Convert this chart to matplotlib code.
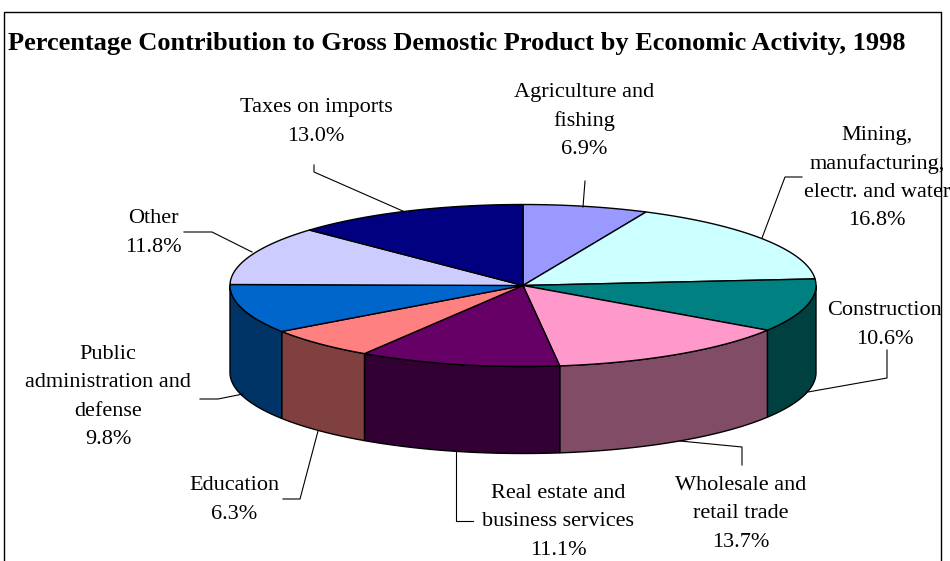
import numpy as np
from matplotlib import pyplot as plt
from matplotlib.patches import Polygon

title = "Percentage Contribution to Gross Demostic Product by Economic Activity, 1998"

# clockwise from 12 o'clock
labels = ["Agriculture and\nfishing", "Mining,\nmanufacturing,\nelectr. and water",
          "Construction", "Wholesale and\nretail trade", "Real estate and\nbusiness services",
          "Education", "Public\nadministration and\ndefense", "Other", "Taxes on imports"]
values = [6.9, 16.8, 10.6, 13.7, 11.1, 6.3, 9.8, 11.8, 13.0]

top_colors = ["#9999FF", "#CCFFFF", "#008080", "#FF99CC", "#660066",
              "#FF8080", "#0066CC", "#CCCCFF", "#000080"]
side_colors = ["#4C4C80", "#668080", "#004040", "#804C66", "#330033",
               "#804040", "#003366", "#666680", "#000040"]

# label centres and leader lines, in pixels of the picture
label_pos = [(584, 121), (877, 178), (885, 325), (741, 514), (558, 522),
             (234, 500), (108, 397), (153, 233), (316, 122)]
leaders = [[(585, 181), (583, 207)],
           [(802, 177), (785, 177), (762, 238)],
           [(887, 350), (887, 378), (808, 392)],
           [(680, 441), (742, 447), (742, 465)],
           [(456, 452), (456, 521), (473, 521)],
           [(318, 431), (300, 499), (283, 499)],
           [(243, 394), (218, 399), (200, 399)],
           [(252, 252), (212, 232), (184, 232)],
           [(314, 165), (314, 172), (405, 212)]]

cx, cy = 523, 285.5
rx, ry = 293, 81
depth = 87


def ellipse(a0, a1):
    a = np.radians(np.linspace(a0, a1, max(int(a1 - a0) * 2, 2) + 1))
    return np.column_stack([cx + rx * np.sin(a), cy - ry * np.cos(a)])


fig = plt.figure(figsize=(9.5, 5.61), dpi=100)
ax = fig.add_axes([0, 0, 1, 1])
ax.set_xlim(0, 950)
ax.set_ylim(561, 0)
ax.axis("off")
plt.rcParams["font.family"] = "Liberation Serif"

# chart frame, bottom edge is cut off in the picture
ax.plot([4, 4, 941, 941], [561, 11.5, 11.5, 561], color="black", lw=1, zorder=5)

edges = np.concatenate([[0], np.cumsum(values)]) / np.sum(values) * 360

# side wall, only the part of the rim facing the viewer
for a0, a1, c in zip(edges[:-1], edges[1:], side_colors):
    lo, hi = max(a0, 90), min(a1, 270)
    if hi <= lo:
        continue
    rim = ellipse(lo, hi)
    wall = np.vstack([rim, (rim + [0, depth])[::-1]])
    ax.add_patch(Polygon(wall, closed=True, fc=c, ec="black", lw=1, zorder=2))

# top face
for a0, a1, c in zip(edges[:-1], edges[1:], top_colors):
    pts = np.vstack([[cx, cy], ellipse(a0, a1)])
    ax.add_patch(Polygon(pts, closed=True, fc=c, ec="black", lw=1, zorder=3))

for line in leaders:
    xs, ys = zip(*line)
    ax.plot(xs, ys, color="black", lw=0.8, zorder=4)

for name, v, (x, y) in zip(labels, values, label_pos):
    ax.text(x, y, f"{name}\n{v:.1f}%", ha="center", va="center", fontsize=16,
            linespacing=1.65, color="black", zorder=6, clip_on=True)

ax.text(8, 50, title, ha="left", va="baseline", fontsize=19, fontweight="bold", color="black")

fig.savefig("out.png", dpi=100)
